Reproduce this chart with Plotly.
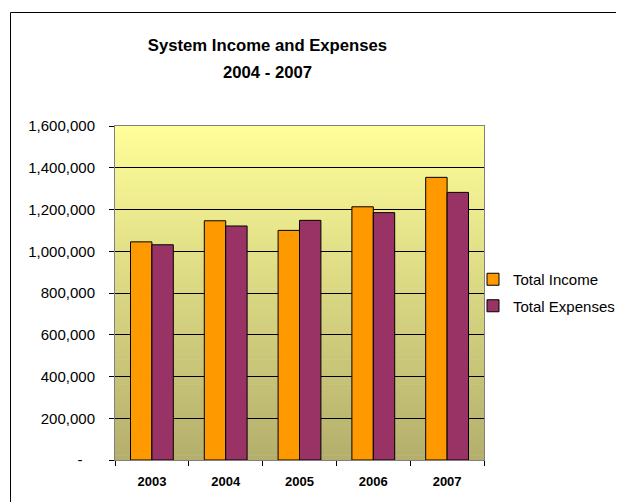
import plotly.graph_objects as go

years = ["2003", "2004", "2005", "2006", "2007"]
total_income = [1045000, 1146000, 1100000, 1213000, 1354000]
total_expenses = [1031000, 1121000, 1148000, 1185000, 1282000]
y_tickvals = [0, 200000, 400000, 600000, 800000, 1000000, 1200000, 1400000, 1600000]
y_ticktext = ["-\u00a0\u00a0\u00a0", "200,000", "400,000", "600,000", "800,000",
              "1,000,000", "1,200,000", "1,400,000", "1,600,000"]

# page has an 8px body margin, so the figure is drawn 8px smaller and offset
OFF = 8
W, H = 624 - OFF, 502 - OFF
ml, mt = 115 - OFF, 126 - OFF
mr = W - (484 - OFF)
mb = H - (460 - OFF)
pw, ph = W - ml - mr, H - mt - mb
font = "Liberation Sans, Arial, sans-serif"

fig = go.Figure()
fig.add_trace(go.Bar(name="Total Income", x=years, y=total_income, legendgroup="a",
                     marker=dict(color="#FF9900", line=dict(color="#000000", width=1))))
fig.add_trace(go.Bar(name="Total Expenses", x=years, y=total_expenses, legendgroup="b",
                     marker=dict(color="#993366", line=dict(color="#000000", width=1))))

# gradient background for plot area
shapes = []
n = 80
top = (255, 255, 153)
bot = (180, 174, 108)
for i in range(n):
    t = (i + 0.5) / n
    c = tuple(round(bot[k] + (top[k] - bot[k]) * t) for k in range(3))
    shapes.append(dict(type="rect", xref="x domain", yref="y domain",
                       x0=0, x1=1, y0=i / n, y1=(i + 1) / n + 0.002,
                       fillcolor="rgb(%d,%d,%d)" % c, line=dict(width=0), layer="below"))
# chart frame
fx0 = 10.5 - OFF
fy0 = 12.5 - OFF
shapes.append(dict(type="rect", xref="paper", yref="paper",
                   x0=(fx0 - ml) / pw, x1=(W + 20 - ml) / pw,
                   y0=-(mb + 20) / ph, y1=(H - fy0 - mb) / ph,
                   line=dict(color="#000000", width=1), fillcolor="rgba(0,0,0,0)", layer="above"))

leg_left = 473 - OFF
leg_cy = 292.5 - OFF

title_text = ("<span style='font-size:16.7px'><b>System Income and Expenses</b></span><br>"
              "<span style='font-size:16.7px'><b>2004 - 2007</b></span>")

fig.update_layout(
    width=W, height=H,
    margin=dict(l=ml, r=mr, t=mt, b=mb, autoexpand=False),
    paper_bgcolor="white",
    plot_bgcolor="rgba(0,0,0,0)",
    barmode="group", bargap=0.42, bargroupgap=0,
    font=dict(family=font, size=15, color="#000000"),
    title=dict(text=title_text,
               x=(267.5 - OFF) / W, xanchor="center", y=1 - (50.5 - OFF) / H, yanchor="middle",
               font=dict(family=font, size=21.5, color="#000000")),
    legend=dict(x=(leg_left - ml) / pw, y=(H - mb - leg_cy) / ph, xanchor="left", yanchor="middle",
                font=dict(family=font, size=15), bgcolor="rgba(0,0,0,0)",
                traceorder="grouped", tracegroupgap=4),
    shapes=shapes,
    showlegend=True,
)
fig.update_xaxes(type="category", showline=True, linecolor="#808080", linewidth=1,
                 mirror=True, ticks="outside", tickson="boundaries", ticklen=5,
                 tickcolor="#000000", tickfont=dict(family=font, size=13, color="#000000"),
                 showgrid=False, zeroline=False, ticklabelstandoff=9,
                 tickprefix="<b>", ticksuffix="</b>")
fig.update_yaxes(range=[0, 1600000], tickvals=y_tickvals, ticktext=y_ticktext,
                 showline=True, linecolor="#808080", linewidth=1, mirror=True,
                 ticks="outside", ticklen=5, tickcolor="#000000",
                 showgrid=True, gridcolor="#000000", gridwidth=1, zeroline=False,
                 ticklabelstandoff=11,
                 tickfont=dict(family=font, size=15, color="#000000"))

fig.write_html("out.html")
